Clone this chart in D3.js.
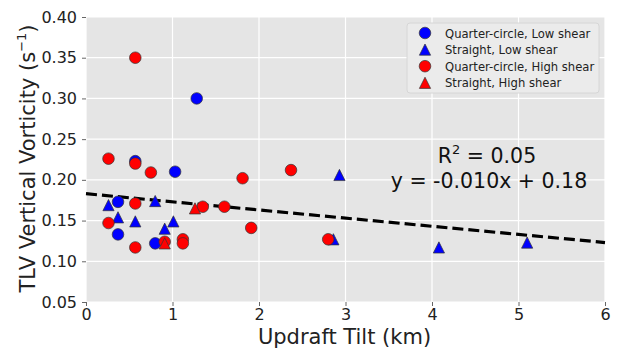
<!DOCTYPE html>
<html>
<meta charset="utf-8">
<head>
<style>
  body { margin: 0; background: #fff; }
  svg text { font-family: "DejaVu Sans", sans-serif; }
  .axis path { display: none; }
  .axis line { stroke: #666; }
  .axis text { fill: #222; font-size: 16px; }
</style>
</head>
<body>
<div id="chart"></div>
<script src="https://d3js.org/d3.v7.min.js"></script>
<script>
// values
const qcLowX = [0.57, 1.03, 0.37, 0.37, 0.80, 1.28];
const qcLowY = [0.223, 0.210, 0.173, 0.133, 0.122, 0.300];

const stLowX = [0.26, 0.37, 0.57, 0.80, 0.91, 1.01, 2.86, 2.93, 4.08, 5.10];
const stLowY = [0.169, 0.154, 0.149, 0.174, 0.140, 0.149, 0.127, 0.206, 0.117, 0.123];

const qcHighX = [0.57, 0.26, 0.57, 0.75, 1.81, 0.57, 1.35, 1.60, 0.26, 1.91, 0.91, 1.12, 1.12, 0.57, 2.37, 2.80];
const qcHighY = [0.350, 0.226, 0.220, 0.209, 0.202, 0.171, 0.167, 0.167, 0.147, 0.141, 0.124, 0.127, 0.122, 0.117, 0.212, 0.127];

const stHighX = [0.91, 1.26];
const stHighY = [0.122, 0.165];

const xTicks = [0, 1, 2, 3, 4, 5, 6];
const yTicks = [0.05, 0.10, 0.15, 0.20, 0.25, 0.30, 0.35, 0.40];

const fitSlope = -0.010, fitIntercept = 0.183;

const series = [
    { name: "Quarter-circle, Low shear", xs: qcLowX, ys: qcLowY, color: "#0000ff", shape: "circle" },
    { name: "Straight, Low shear", xs: stLowX, ys: stLowY, color: "#0000ff", shape: "triangle" },
    { name: "Quarter-circle, High shear", xs: qcHighX, ys: qcHighY, color: "#ff0000", shape: "circle" },
    { name: "Straight, High shear", xs: stHighX, ys: stHighY, color: "#ff0000", shape: "triangle" }
];

var W = 621, H = 348;
var margin = { top: 17, right: 16, bottom: 46, left: 86 },
    width = W - margin.left - margin.right,
    height = H - margin.top - margin.bottom;

var x = d3.scaleLinear().domain([0, 6]).range([0, width]);
var y = d3.scaleLinear().domain([0.05, 0.40]).range([height, 0]);

var svg = d3.select("#chart").append("svg")
    .attr("width", W).attr("height", H);

var g = svg.append("g")
    .attr("transform", "translate(" + margin.left + "," + margin.top + ")");

// background and grid
g.append("rect").attr("width", width).attr("height", height).attr("fill", "#e5e5e5");

g.selectAll(".vgrid").data(xTicks).enter().append("line")
    .attr("x1", d => x(d)).attr("x2", d => x(d))
    .attr("y1", 0).attr("y2", height)
    .attr("stroke", "#fff").attr("stroke-width", 1.2);
g.selectAll(".hgrid").data(yTicks).enter().append("line")
    .attr("y1", d => y(d)).attr("y2", d => y(d))
    .attr("x1", 0).attr("x2", width)
    .attr("stroke", "#fff").attr("stroke-width", 1.2);

// axes
g.append("g").attr("class", "axis")
    .attr("transform", "translate(0," + height + ")")
    .call(d3.axisBottom(x).tickValues(xTicks).tickSize(4).tickPadding(3).tickFormat(d3.format("d")));
g.append("g").attr("class", "axis")
    .call(d3.axisLeft(y).tickValues(yTicks).tickSize(4).tickPadding(5).tickFormat(d3.format(".2f")));

// fit line
g.append("line")
    .attr("x1", x(0)).attr("y1", y(fitIntercept))
    .attr("x2", x(6)).attr("y2", y(fitIntercept + fitSlope * 6))
    .attr("stroke", "#000").attr("stroke-width", 3.2)
    .attr("stroke-dasharray", "11,5");

// markers
function marker(shape, r) {
    if (shape === "circle") {
        return "M" + r + ",0A" + r + "," + r + " 0 1,1 " + (-r) + ",0A" + r + "," + r + " 0 1,1 " + r + ",0Z";
    }
    return "M0," + (-r) + "L" + r + "," + r + "L" + (-r) + "," + r + "Z";
}

series.forEach(function (s) {
    var pts = s.xs.map((v, i) => [v, s.ys[i]]);
    g.selectAll(null).data(pts).enter().append("path")
        .attr("d", marker(s.shape, s.shape === "circle" ? 5.8 : 5.6))
        .attr("transform", d => "translate(" + x(d[0]) + "," + y(d[1]) + ")")
        .attr("fill", s.color)
        .attr("stroke", "#333").attr("stroke-width", 0.7);
});

// annotation
g.append("text").attr("x", 401).attr("y", 146).attr("text-anchor", "middle")
    .style("font-size", "20.5px").attr("fill", "#111")
    .html("R<tspan dy='-9' font-size='13px'>2</tspan><tspan dy='9'> = 0.05</tspan>");
g.append("text").attr("x", 403).attr("y", 171).attr("text-anchor", "middle")
    .style("font-size", "20.5px").attr("fill", "#111")
    .text("y = -0.010x + 0.18");

// legend
var lg = g.append("g").attr("transform", "translate(" + (407 - margin.left) + "," + (23 - margin.top) + ")");
lg.append("rect").attr("width", 192).attr("height", 70).attr("rx", 3)
    .attr("fill", "#ebebeb").attr("stroke", "#d6d6d6");
series.forEach(function (s, i) {
    var row = lg.append("g").attr("transform", "translate(0," + (10 + i * 16.6) + ")");
    row.append("path").attr("d", marker(s.shape, s.shape === "circle" ? 5.8 : 5.6))
        .attr("transform", "translate(18,0)")
        .attr("fill", s.color).attr("stroke", "#333").attr("stroke-width", 0.7);
    row.append("text").attr("x", 38).attr("y", 4.5)
        .style("font-size", "11.6px").attr("fill", "#222").text(s.name);
});

// axis labels
svg.append("text").attr("x", margin.left + width / 2 - 1).attr("y", 344)
    .attr("text-anchor", "middle").style("font-size", "21px").attr("fill", "#222")
    .text("Updraft Tilt (km)");
svg.append("text")
    .attr("transform", "translate(35," + (margin.top + height / 2 - 1) + ") rotate(-90)")
    .attr("text-anchor", "middle").style("font-size", "21px").attr("fill", "#222")
    .html("TLV Vertical Vorticity (s<tspan dy='-9' font-size='13px'>\u22121</tspan><tspan dy='9'>)</tspan>");
</script>
</body>
</html>
